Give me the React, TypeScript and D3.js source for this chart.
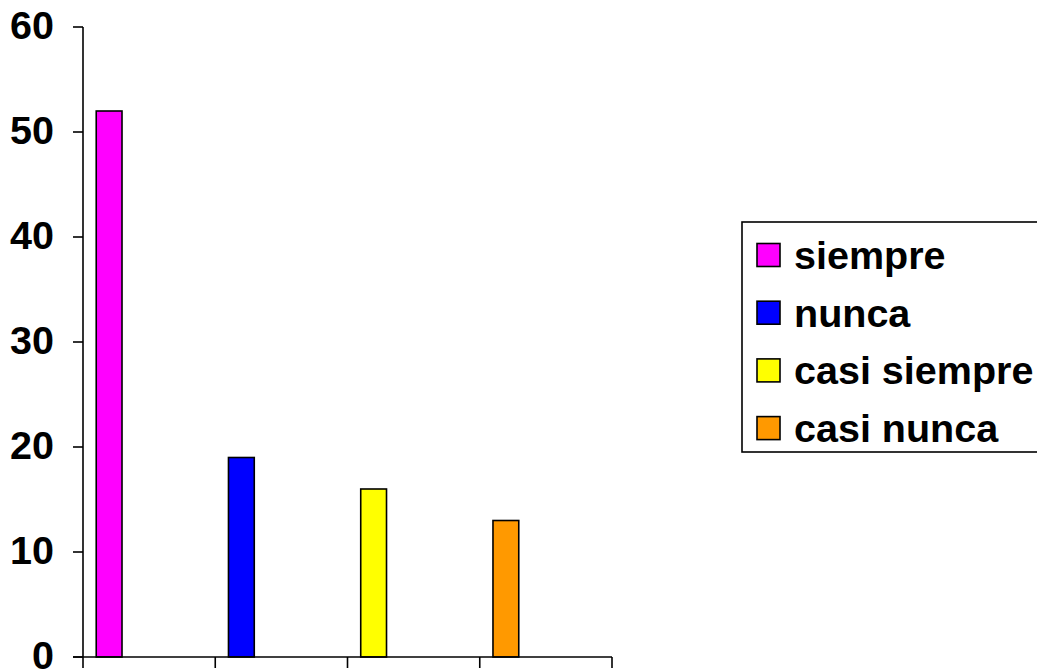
import React from "react";
import * as d3 from "d3";

const categories = ["siempre", "nunca", "casi siempre", "casi nunca"];
const values = [52, 19, 16, 13];
const colors = ["#FF00FF", "#0000FF", "#FFFF00", "#FF9900"];
const yTicks = [0, 10, 20, 30, 40, 50, 60];

const W = 1037;
const H = 672;
const plot = { left: 83, right: 612, top: 27, bottom: 657 };
const FONT = "'Liberation Sans', Arial, sans-serif";
const FS = 39.5;

export default function App() {
  const x = d3
    .scaleBand<string>()
    .domain(categories)
    .range([plot.left, plot.right])
    .paddingInner(0)
    .paddingOuter(0);
  const y = d3.scaleLinear().domain([0, 60]).range([plot.bottom, plot.top]);
  const bw = x.bandwidth();
  const catEdges = d3.range(categories.length + 1).map((i) => plot.left + i * bw);

  const legend = { x: 742, y: 222, w: 310, h: 230, rowStart: 255, rowStep: 57.7 };

  return (
    <svg
      width={W}
      height={H}
      style={{ position: "absolute", left: 0, top: 0, background: "#fff" }}
      fontFamily={FONT}
    >
      {/* bars */}
      {categories.map((c, i) => (
        <rect
          key={c}
          x={(x(c) as number) + bw * 0.1}
          y={y(values[i])}
          width={bw * 0.195}
          height={y(0) - y(values[i])}
          fill={colors[i]}
          stroke="#000"
          strokeWidth={1.6}
        />
      ))}

      {/* y axis */}
      <line x1={plot.left} x2={plot.left} y1={plot.top} y2={plot.bottom} stroke="#000" strokeWidth={1.6} />
      {yTicks.map((t) => (
        <g key={t}>
          <line x1={plot.left - 10} x2={plot.left} y1={y(t)} y2={y(t)} stroke="#000" strokeWidth={1.6} />
          <text
            x={54}
            y={y(t) - 2}
            textAnchor="end"
            dominantBaseline="central"
            fontSize={FS}
            fontWeight="bold"
          >
            {t}
          </text>
        </g>
      ))}

      {/* x axis */}
      <line x1={plot.left - 10} x2={plot.right} y1={plot.bottom} y2={plot.bottom} stroke="#000" strokeWidth={1.6} />
      {catEdges.map((e, i) => (
        <line key={i} x1={e} x2={e} y1={plot.bottom} y2={plot.bottom + 11} stroke="#000" strokeWidth={1.6} />
      ))}

      {/* legend */}
      <rect x={legend.x} y={legend.y} width={legend.w} height={legend.h} fill="#fff" stroke="#000" strokeWidth={1.6} />
      {categories.map((c, i) => {
        const cy = legend.rowStart + i * legend.rowStep;
        return (
          <g key={c}>
            <rect x={757} y={cy - 11.5} width={23} height={23} fill={colors[i]} stroke="#000" strokeWidth={1.6} />
            <text x={794} y={cy} dominantBaseline="central" fontSize={FS} fontWeight="bold">
              {c}
            </text>
          </g>
        );
      })}
    </svg>
  );
}
